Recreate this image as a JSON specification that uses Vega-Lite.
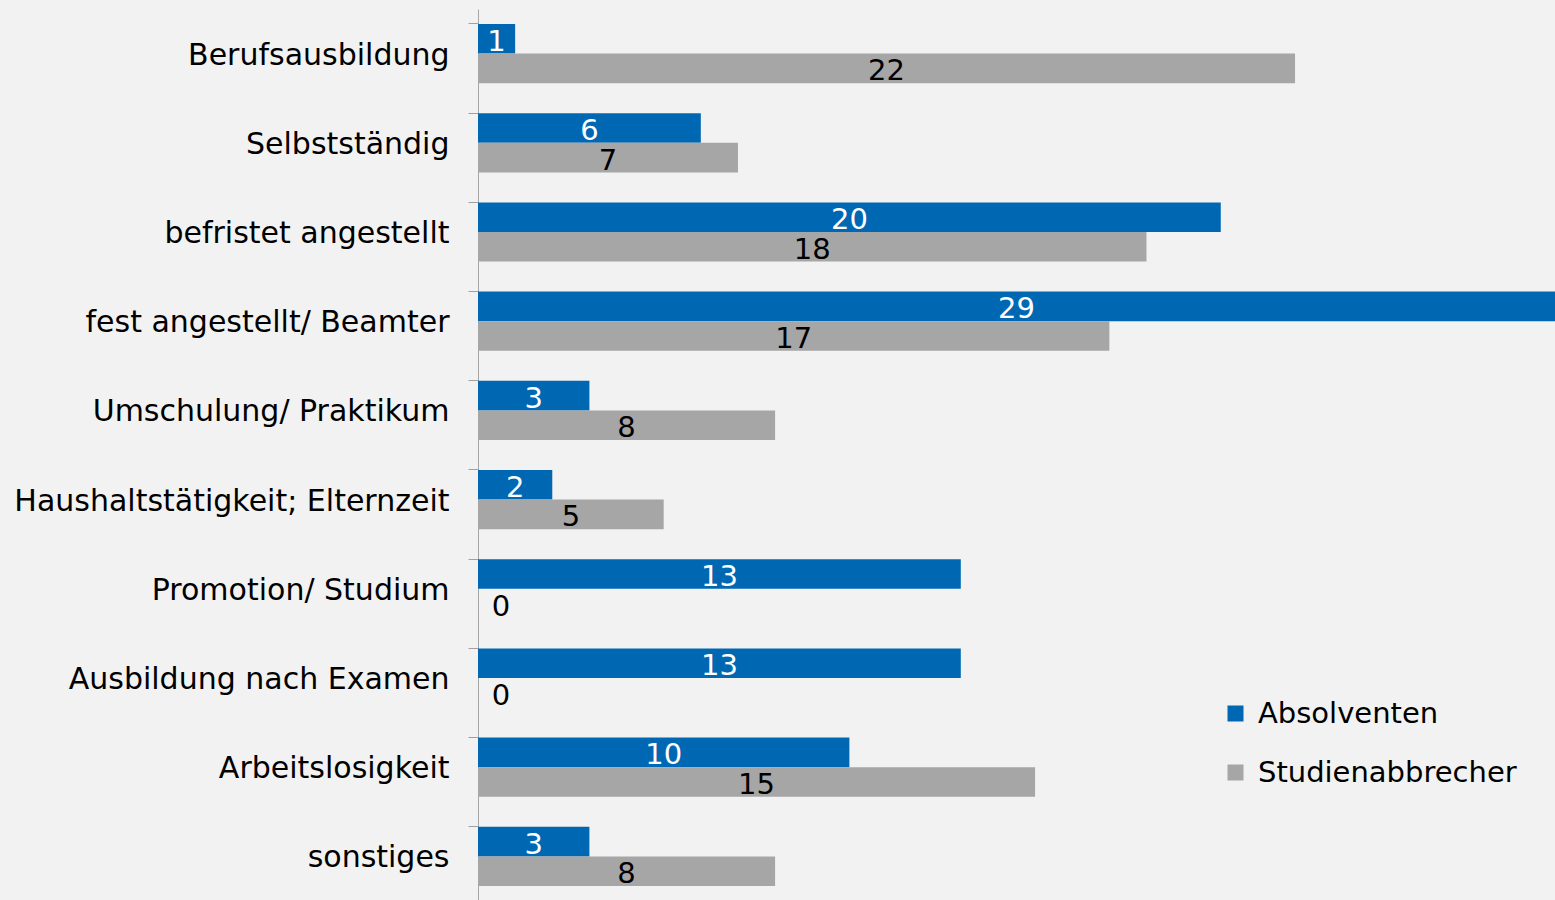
{
  "$schema": "https://vega.github.io/schema/vega-lite/v6.json",
  "autosize": "none",
  "width": 1077,
  "height": 892,
  "padding": {"left": 478, "top": 9, "right": 0, "bottom": 0},
  "background": "#f2f2f2",
  "config": {"view": {"stroke": null}, "font": "DejaVu Sans"},
  "data": {"values": [
    {"category": "Berufsausbildung", "series": "Absolventen", "value": 1},
    {"category": "Berufsausbildung", "series": "Studienabbrecher", "value": 22},
    {"category": "Selbstständig", "series": "Absolventen", "value": 6},
    {"category": "Selbstständig", "series": "Studienabbrecher", "value": 7},
    {"category": "befristet angestellt", "series": "Absolventen", "value": 20},
    {"category": "befristet angestellt", "series": "Studienabbrecher", "value": 18},
    {"category": "fest angestellt/ Beamter", "series": "Absolventen", "value": 29},
    {"category": "fest angestellt/ Beamter", "series": "Studienabbrecher", "value": 17},
    {"category": "Umschulung/ Praktikum", "series": "Absolventen", "value": 3},
    {"category": "Umschulung/ Praktikum", "series": "Studienabbrecher", "value": 8},
    {"category": "Haushaltstätigkeit; Elternzeit", "series": "Absolventen", "value": 2},
    {"category": "Haushaltstätigkeit; Elternzeit", "series": "Studienabbrecher", "value": 5},
    {"category": "Promotion/ Studium", "series": "Absolventen", "value": 13},
    {"category": "Promotion/ Studium", "series": "Studienabbrecher", "value": 0},
    {"category": "Ausbildung nach Examen", "series": "Absolventen", "value": 13},
    {"category": "Ausbildung nach Examen", "series": "Studienabbrecher", "value": 0},
    {"category": "Arbeitslosigkeit", "series": "Absolventen", "value": 10},
    {"category": "Arbeitslosigkeit", "series": "Studienabbrecher", "value": 15},
    {"category": "sonstiges", "series": "Absolventen", "value": 3},
    {"category": "sonstiges", "series": "Studienabbrecher", "value": 8}
  ]},
  "transform": [
    {"calculate": "datum.value == 0 ? 0.62 : datum.value / 2", "as": "mid"}
  ],
  "encoding": {
    "y": {
      "field": "category", "type": "nominal", "sort": null,
      "scale": {"paddingInner": 0.336, "paddingOuter": 0.168},
      "axis": {
        "title": null, "bandPosition": 0, "labelFontSize": 30, "labelColor": "#000000",
        "labelPadding": 19, "tickSize": 10, "tickColor": "#a0a0a0", "domainColor": "#a6a6a6",
        "labelLimit": 600, "grid": false, "labelBaseline": "middle", "labelOffset": 2
      }
    },
    "yOffset": {"field": "series", "type": "nominal", "sort": ["Absolventen", "Studienabbrecher"]}
  },
  "layer": [
    {
      "mark": {"type": "bar"},
      "encoding": {
        "x": {"field": "value", "type": "quantitative", "scale": {"domain": [0, 29], "nice": false}, "axis": null},
        "color": {
          "field": "series", "type": "nominal",
          "scale": {"domain": ["Absolventen", "Studienabbrecher"], "range": ["#0068b3", "#a6a6a6"]},
          "legend": {
            "title": null, "orient": "none", "legendX": 743, "legendY": 690,
            "symbolType": "square", "symbolSize": 256, "symbolStrokeWidth": 0,
            "labelFontSize": 29, "labelColor": "#000000", "rowPadding": 29, "labelOffset": 8,
            "labelLimit": 500
          }
        }
      }
    },
    {
      "mark": {"type": "text", "fontSize": 29, "baseline": "middle", "align": "center", "dy": 3},
      "encoding": {
        "x": {"field": "mid", "type": "quantitative"},
        "text": {"field": "value", "type": "quantitative"},
        "color": {"condition": {"test": "datum.series === 'Absolventen'", "value": "#ffffff"}, "value": "#000000"}
      }
    }
  ]
}
